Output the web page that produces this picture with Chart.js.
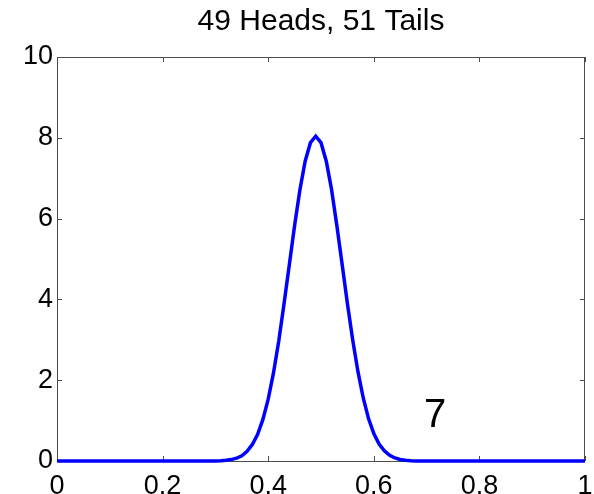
<!DOCTYPE html>
<html>
<head>
<meta charset="utf-8">
<script src="https://cdn.jsdelivr.net/npm/chart.js@4"></script>
<style>
  html, body { margin: 0; padding: 0; background: #fff; }
  #wrap { width: 594px; height: 494px; }
</style>
</head>
<body>
<div id="wrap"><canvas id="chart"></canvas></div>
<script>
// chart text
const titleText = "49 Heads, 51 Tails";
const panelLabel = "7";

// posterior curve (x = probability of heads)
const xValues = [
  0, 0.1, 0.2, 0.25, 0.28,
  0.30, 0.31, 0.32, 0.33, 0.34, 0.35, 0.36, 0.37, 0.38, 0.39,
  0.40, 0.41, 0.42, 0.43, 0.44, 0.45, 0.46, 0.47, 0.48, 0.49,
  0.50, 0.51, 0.52, 0.53, 0.54, 0.55, 0.56, 0.57, 0.58, 0.59,
  0.60, 0.61, 0.62, 0.63, 0.64, 0.65, 0.66, 0.67, 0.68, 0.69,
  0.70, 0.72, 0.75, 0.8, 0.9, 1
];
const density = [
  0, 0, 0, 0, 0.001,
  0.003, 0.008, 0.016, 0.035, 0.069, 0.13, 0.24, 0.41, 0.66, 1.03,
  1.53, 2.18, 2.97, 3.89, 4.86, 5.83, 6.71, 7.42, 7.88, 8.04,
  7.88, 7.42, 6.72, 5.83, 4.87, 3.9, 3.0, 2.21, 1.56, 1.05,
  0.68, 0.42, 0.25, 0.14, 0.075, 0.038, 0.018, 0.008, 0.003, 0.001,
  0, 0, 0, 0, 0, 0
];

// tick labels
const xTicks = [0, 0.2, 0.4, 0.6, 0.8, 1];
const yTicks = [0, 2, 4, 6, 8, 10];

// where the "7" sits, in data units
const labelX = 0.695;
const labelY = 0.84;

const fontFamily = "'Liberation Sans', Arial, Helvetica, sans-serif";

// axis box with inward ticks on all four sides
const boxPlugin = {
  id: "box",
  beforeDatasetsDraw(chart) {
    const { ctx, chartArea: a, scales } = chart;
    ctx.save();
    ctx.strokeStyle = "#4d4d4d";
    ctx.lineWidth = 1;
    ctx.strokeRect(a.left + 0.5, a.top + 0.5, a.right - a.left - 1, a.bottom - a.top);
    ctx.beginPath();
    xTicks.forEach((v) => {
      const px = Math.round(scales.x.getPixelForValue(v)) + 0.5;
      ctx.moveTo(px, a.bottom);
      ctx.lineTo(px, a.bottom - 5);
      ctx.moveTo(px, a.top);
      ctx.lineTo(px, a.top + 5);
    });
    yTicks.forEach((v) => {
      const py = Math.round(scales.y.getPixelForValue(v)) + 0.5;
      ctx.moveTo(a.left, py);
      ctx.lineTo(a.left + 5, py);
      ctx.moveTo(a.right, py);
      ctx.lineTo(a.right - 5, py);
    });
    ctx.stroke();
    ctx.restore();
  },
  afterDatasetsDraw(chart) {
    const { ctx, scales } = chart;
    ctx.save();
    ctx.fillStyle = "#000";
    ctx.font = "40px " + fontFamily;
    ctx.textAlign = "left";
    ctx.textBaseline = "alphabetic";
    ctx.fillText(panelLabel, scales.x.getPixelForValue(labelX), scales.y.getPixelForValue(labelY));
    ctx.restore();
  },
};

new Chart(document.getElementById("chart"), {
  type: "line",
  data: {
    datasets: [
      {
        data: xValues.map((x, i) => ({ x: x, y: density[i] })),
        borderColor: "#0000ff",
        borderWidth: 3.5,
        pointRadius: 0,
        tension: 0,
        fill: false,
        clip: 4,
      },
    ],
  },
  options: {
    responsive: true,
    maintainAspectRatio: false,
    animation: false,
    devicePixelRatio: 1,
    layout: { padding: { left: 0, right: 9, top: 0, bottom: 0 } },
    plugins: {
      legend: { display: false },
      tooltip: { enabled: false },
      title: {
        display: true,
        text: titleText,
        fullSize: false,
        color: "#000",
        font: { family: fontFamily, size: 30, weight: "normal" },
        padding: { top: 4, bottom: 17 },
      },
    },
    scales: {
      x: {
        type: "linear",
        min: 0,
        max: 1,
        grid: { display: false, drawTicks: false },
        border: { display: false },
        afterBuildTicks: (s) => { s.ticks = xTicks.map((v) => ({ value: v })); },
        afterFit: (s) => { s.height = 33; s.paddingLeft = 0; s.paddingRight = 0; },
        ticks: {
          color: "#000",
          padding: 9,
          maxRotation: 0,
          autoSkip: false,
          callback: (v) => String(v),
          font: { family: fontFamily, size: 27 },
        },
      },
      y: {
        min: 0,
        max: 10,
        grid: { display: false, drawTicks: false },
        border: { display: false },
        afterBuildTicks: (s) => { s.ticks = yTicks.map((v) => ({ value: v })); },
        afterFit: (s) => { s.width = 57; s.paddingTop = 0; s.paddingBottom = 0; },
        ticks: {
          color: "#000",
          padding: 4,
          callback: (v) => String(v),
          font: { family: fontFamily, size: 27 },
        },
      },
    },
  },
  plugins: [boxPlugin],
});
</script>
</body>
</html>
